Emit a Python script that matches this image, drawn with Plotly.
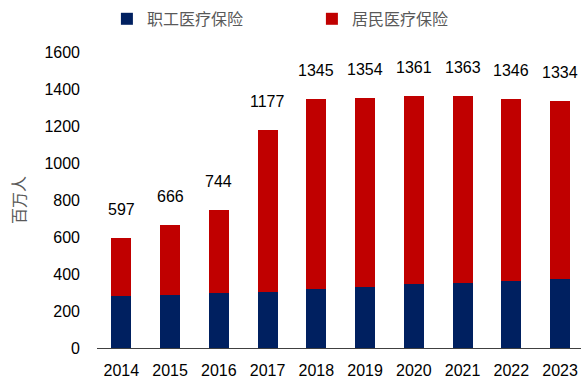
import plotly.graph_objects as go

years = ["2014", "2015", "2016", "2017", "2018", "2019", "2020", "2021", "2022", "2023"]
totals = [597, 666, 744, 1177, 1345, 1354, 1361, 1363, 1346, 1334]
employee = [283, 289, 296, 303, 317, 329, 345, 354, 362, 371]
resident = [t - e for t, e in zip(totals, employee)]
y_ticks = [0, 200, 400, 600, 800, 1000, 1200, 1400, 1600]

NAVY = "#002060"
RED = "#C00000"
FONT = "Liberation Sans, Arial, sans-serif"
CJK = "Noto Sans CJK SC, sans-serif"

fig = go.Figure()
fig.add_trace(go.Bar(x=years, y=employee, name="职工医疗保险",
                     marker=dict(color=NAVY, line=dict(width=0))))
fig.add_trace(go.Bar(x=years, y=resident, name="居民医疗保险",
                     marker=dict(color=RED, line=dict(width=0))))

# total value above each stacked column
for i, t in enumerate(totals):
    fig.add_annotation(x=i, y=t, xref="x", yref="y", text=str(t), showarrow=False,
                       yanchor="bottom", yshift=18,
                       font=dict(family=FONT, size=16, color="#000000"))

fig.update_layout(
    width=581, height=379,
    margin=dict(l=97, r=0, t=52, b=29),
    barmode="stack", bargap=0.59,
    plot_bgcolor="white", paper_bgcolor="white",
    showlegend=True,
    legend=dict(orientation="h", x=0.184, xanchor="left", y=0.995, yanchor="top",
                yref="container", xref="container", entrywidth=160, entrywidthmode="pixels",
                font=dict(family=CJK, size=16, color="#595959"),
                itemwidth=30, traceorder="normal"),
    xaxis=dict(type="category", range=[-0.5, 9.43], showgrid=False,
               showline=True, linecolor="#404040", linewidth=1, ticks="",
               tickfont=dict(family=FONT, size=16, color="#000000"),
               ticklabelstandoff=8),
    yaxis=dict(range=[0, 1600], tickvals=y_ticks, showgrid=False,
               showline=False, zeroline=False, ticks="",
               tickfont=dict(family=FONT, size=16, color="#000000"),
               ticklabelstandoff=16,
               title=dict(text="百万人", standoff=14,
                          font=dict(family=CJK, size=16, color="#595959"))),
)

fig.write_html("out.html")
